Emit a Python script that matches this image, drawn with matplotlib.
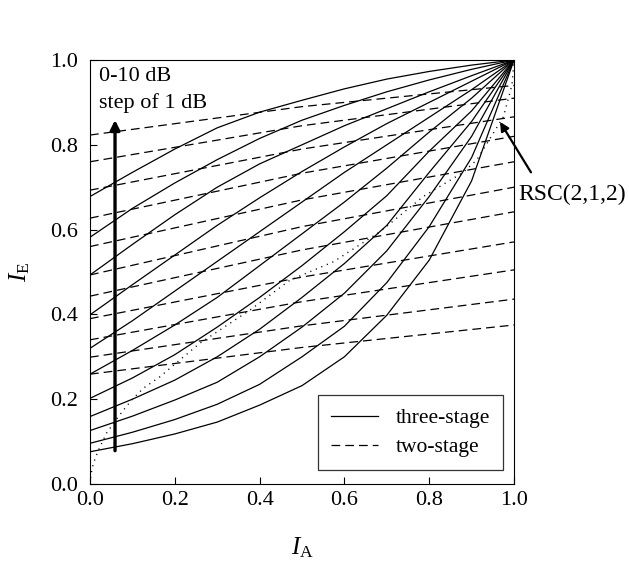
import matplotlib
matplotlib.use("Agg")
import matplotlib.pyplot as plt
import numpy as np

plt.rcParams['font.family'] = ['Liberation Serif', 'DejaVu Serif']
plt.rcParams['mathtext.fontset'] = 'custom'
plt.rcParams['mathtext.rm'] = 'Liberation Serif'
plt.rcParams['mathtext.it'] = 'Liberation Serif:italic'

## three-stage EXIT curves, 0 dB ... 10 dB
ia = [0.0, 0.1, 0.2, 0.3, 0.4, 0.5, 0.6, 0.7, 0.8, 0.9, 1.0]
three_stage = [
    [0.076, 0.095, 0.118, 0.146, 0.186, 0.232, 0.300, 0.398, 0.528, 0.715, 1.0],
    [0.096, 0.122, 0.152, 0.188, 0.235, 0.300, 0.372, 0.475, 0.607, 0.770, 1.0],
    [0.126, 0.160, 0.198, 0.240, 0.300, 0.370, 0.450, 0.550, 0.678, 0.820, 1.0],
    [0.159, 0.200, 0.245, 0.300, 0.365, 0.440, 0.520, 0.610, 0.735, 0.855, 1.0],
    [0.202, 0.250, 0.305, 0.370, 0.440, 0.515, 0.595, 0.680, 0.785, 0.880, 1.0],
    [0.259, 0.315, 0.375, 0.440, 0.515, 0.590, 0.665, 0.745, 0.830, 0.910, 1.0],
    [0.320, 0.385, 0.455, 0.525, 0.595, 0.665, 0.735, 0.800, 0.865, 0.930, 1.0],
    [0.399, 0.470, 0.540, 0.610, 0.675, 0.737, 0.795, 0.850, 0.900, 0.950, 1.0],
    [0.493, 0.565, 0.635, 0.700, 0.755, 0.800, 0.845, 0.885, 0.925, 0.963, 1.0],
    [0.582, 0.650, 0.710, 0.765, 0.815, 0.858, 0.893, 0.925, 0.953, 0.978, 1.0],
    [0.678, 0.735, 0.790, 0.840, 0.877, 0.905, 0.932, 0.955, 0.973, 0.988, 1.0],
]

## two-stage curves
ia2 = [0.0, 0.5, 1.0]
two_stage = [
    [0.259, 0.322, 0.375],
    [0.299, 0.373, 0.436],
    [0.340, 0.430, 0.505],
    [0.390, 0.488, 0.571],
    [0.443, 0.552, 0.642],
    [0.493, 0.607, 0.700],
    [0.560, 0.670, 0.760],
    [0.627, 0.733, 0.820],
    [0.693, 0.790, 0.866],
    [0.760, 0.845, 0.910],
    [0.823, 0.890, 0.940],
]

## RSC(2,1,2) curve (inverted)
rsc_x = [0.0, 0.002, 0.008, 0.020, 0.039, 0.067, 0.098, 0.126, 0.165, 0.259, 0.377,
         0.472, 0.574, 0.684, 0.786, 0.880, 0.912, 0.975, 0.995, 1.0]
rsc_y = [0.0, 0.021, 0.049, 0.080, 0.120, 0.159, 0.198, 0.226, 0.253, 0.332, 0.410,
         0.481, 0.524, 0.595, 0.678, 0.735, 0.764, 0.866, 0.940, 1.0]

fig = plt.figure(figsize=(6.29, 5.65), dpi=100)
ax = fig.add_axes([0.1431, 0.1434, 0.6741, 0.7504])

for k in range(len(three_stage)):
    ax.plot(ia, three_stage[k], color='k', lw=0.9,
            label='three-stage' if k == 0 else None)
for k in range(len(two_stage)):
    ax.plot(ia2, two_stage[k], color='k', lw=0.9, dashes=(7, 4),
            label='two-stage' if k == 0 else None)
ax.plot(rsc_x, rsc_y, color='k', lw=1.0, dashes=(0.8, 3.5))

ax.annotate('', xy=(0.059, 0.865), xytext=(0.059, 0.072),
            arrowprops=dict(arrowstyle='-|>', color='k', lw=2.4, mutation_scale=14))
ax.text(0.021, 0.983, '0-10 dB\nstep of 1 dB', fontsize=16, va='top', ha='left',
        linespacing=1.45)
ax.annotate('', xy=(0.967, 0.854), xytext=(1.04, 0.735), annotation_clip=False,
            arrowprops=dict(arrowstyle='-|>', color='k', lw=1.6, mutation_scale=13,
                            shrinkA=0, shrinkB=0))
ax.text(1.01, 0.683, 'RSC(2,1,2)', fontsize=17, va='center', ha='left',
        transform=ax.transData, clip_on=False)

ax.set_xlim(0, 1)
ax.set_ylim(0, 1)
ax.set_xticks(np.arange(0, 1.01, 0.2))
ax.set_yticks(np.arange(0, 1.01, 0.2))
ax.xaxis.set_major_formatter(plt.FormatStrFormatter('%.1f'))
ax.yaxis.set_major_formatter(plt.FormatStrFormatter('%.1f'))
ax.tick_params(direction='in', labelsize=16, length=5)
ax.tick_params(axis='y', pad=9)
ax.tick_params(axis='x', pad=5)
ax.set_xlabel(r'$I_\mathrm{A}$', fontsize=18, labelpad=18)
ax.set_ylabel(r'$I_\mathrm{E}$', fontsize=18, labelpad=13, rotation=90)

leg = ax.legend(loc='lower right', fontsize=15.5, frameon=True, fancybox=False,
                edgecolor='k', handlelength=2.2, borderpad=0.6, labelspacing=0.4,
                handletextpad=0.8, borderaxespad=0, bbox_to_anchor=(0.974, 0.033))
leg.get_frame().set_linewidth(0.9)

plt.savefig("out.png", dpi=100)
